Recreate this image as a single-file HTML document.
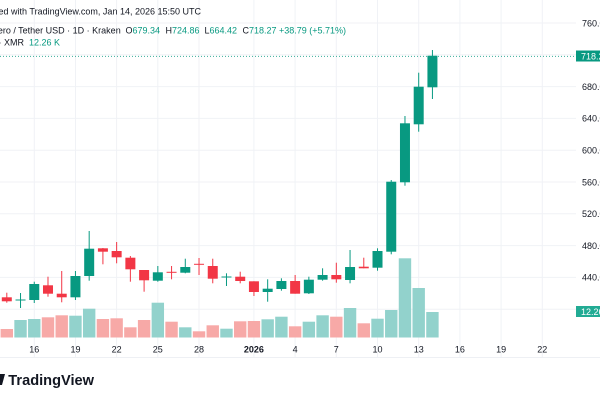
<!DOCTYPE html>
<html><head><meta charset="utf-8"><style>
html,body{margin:0;padding:0;background:#fff;}
svg{display:block;}
text{font-family:"Liberation Sans",Arial,sans-serif;}
</style></head><body>
<svg width="600" height="400" viewBox="0 0 600 400" xmlns="http://www.w3.org/2000/svg">
<rect width="600" height="400" fill="#fff"/>
<g stroke="#f0f2f6" stroke-width="1">
<line x1="0" y1="23" x2="576" y2="23"/>
<line x1="0" y1="54.8" x2="576" y2="54.8"/>
<line x1="0" y1="86.6" x2="576" y2="86.6"/>
<line x1="0" y1="118.4" x2="576" y2="118.4"/>
<line x1="0" y1="150.2" x2="576" y2="150.2"/>
<line x1="0" y1="182" x2="576" y2="182"/>
<line x1="0" y1="213.8" x2="576" y2="213.8"/>
<line x1="0" y1="245.6" x2="576" y2="245.6"/>
<line x1="0" y1="277.4" x2="576" y2="277.4"/>
<line x1="0" y1="309.2" x2="576" y2="309.2"/>
<line x1="34.3" y1="0" x2="34.3" y2="357"/>
<line x1="75.5" y1="0" x2="75.5" y2="357"/>
<line x1="116.6" y1="0" x2="116.6" y2="357"/>
<line x1="157.8" y1="0" x2="157.8" y2="357"/>
<line x1="199" y1="0" x2="199" y2="357"/>
<line x1="253.9" y1="0" x2="253.9" y2="357"/>
<line x1="295.1" y1="0" x2="295.1" y2="357"/>
<line x1="336.3" y1="0" x2="336.3" y2="357"/>
<line x1="377.5" y1="0" x2="377.5" y2="357"/>
<line x1="418.7" y1="0" x2="418.7" y2="357"/>
<line x1="459.9" y1="0" x2="459.9" y2="357"/>
<line x1="501.1" y1="0" x2="501.1" y2="357"/>
<line x1="542.3" y1="0" x2="542.3" y2="357"/>
</g>
<line x1="0" y1="357.5" x2="600" y2="357.5" stroke="#eef0f4" stroke-width="1"/>

<!-- volume -->
<g id="vol"></g>
<!-- candles -->
<g id="cdl"></g>

<line x1="0" y1="56.4" x2="576" y2="56.4" stroke="#089981" stroke-width="1" stroke-dasharray="1 2" opacity="0.8"/>

<!-- header -->
<text x="201" y="14.5" font-size="9" fill="#131722" text-anchor="end">ted with TradingView.com, Jan 14, 2026 15:50 UTC</text>
<text x="120.7" y="33.3" font-size="9" fill="#131722" text-anchor="end">nero / Tether USD · 1D · Kraken</text>
<text y="33.3" font-size="9" fill="#131722"><tspan x="125.5">O</tspan><tspan fill="#089981">679.34</tspan><tspan x="165.5">H</tspan><tspan fill="#089981">724.86</tspan><tspan x="204.5">L</tspan><tspan fill="#089981">664.42</tspan><tspan x="242.5">C</tspan><tspan fill="#089981">718.27</tspan><tspan x="279" fill="#089981">+38.79 (+5.71%)</tspan></text>
<text x="24" y="45.3" font-size="9" fill="#131722" text-anchor="end">· XMR</text>
<text x="29" y="45.3" font-size="9" fill="#089981">12.26 K</text>

<!-- price axis -->
<g font-size="9" fill="#131722">
<text x="582" y="26.3">760.00</text>
<text x="582" y="89.9">680.00</text>
<text x="582" y="121.7">640.00</text>
<text x="582" y="153.5">600.00</text>
<text x="582" y="185.3">560.00</text>
<text x="582" y="217.1">520.00</text>
<text x="582" y="248.9">480.00</text>
<text x="582" y="280.7">440.00</text>
</g>
<rect x="576" y="50.5" width="24" height="11" fill="#089981"/>
<text x="581" y="59.5" font-size="9" fill="#fff">718.27</text>
<rect x="576" y="306" width="24" height="11" fill="#22ab94"/>
<text x="581" y="315" font-size="9" fill="#fff">12.26 K</text>

<!-- time axis -->
<g font-size="9" fill="#131722" text-anchor="middle">
<text x="34.3" y="352.3">16</text>
<text x="75.5" y="352.3">19</text>
<text x="116.6" y="352.3">22</text>
<text x="157.8" y="352.3">25</text>
<text x="199" y="352.3">28</text>
<text x="253.9" y="352.3" font-weight="bold">2026</text>
<text x="295.1" y="352.3">4</text>
<text x="336.3" y="352.3">7</text>
<text x="377.5" y="352.3">10</text>
<text x="418.7" y="352.3">13</text>
<text x="459.9" y="352.3">16</text>
<text x="501.1" y="352.3">19</text>
<text x="542.3" y="352.3">22</text>
</g>

<!-- logo -->
<polygon points="0,374 5,374 2,385 0,385" fill="#131722"/>
<text x="8.3" y="385" font-size="14.6" font-weight="bold" fill="#131722">TradingView</text>
</svg>
<script>
(function(){
var NS="http://www.w3.org/2000/svg";
var G="#089981",R="#f23645",VG="#92d2cc",VR="#f7a9a7";
var c=[
['r',297.3,301.3,292.7,302.7],
['g',299.5,300.5,293,308],
['g',284,300,281.7,303],
['r',285.3,293.7,276.7,296.7],
['r',293.7,297.3,271,302.3],
['g',276,297.3,271,300],
['g',248.7,276,231,280.7],
['r',248.3,251.7,248,264.3],
['r',251,257.3,242,263.3],
['r',257.7,269.3,256,281.7],
['r',270,280.3,270,291.7],
['g',272.3,280.7,266,281.7],
['r',271.8,272.8,266,279.3],
['g',267,272.7,258.7,273.3],
['r',263.8,264.8,258,275],
['r',266,278.7,258.7,283.3],
['g',276.5,277.5,273.3,286],
['r',276.7,281,271.7,283.3],
['r',281.3,292,281.3,296],
['g',288.7,292,279.3,301.7],
['g',281,289,278.3,290.7],
['r',281,293.7,275,293.7],
['g',279.7,293.3,276.7,294],
['g',275,279.7,268.3,280.7],
['r',275,279.3,262.7,282.7],
['g',267,280,250,283.3],
['r',266.7,268.3,257.7,268.3],
['g',251,267.7,248.3,270.7],
['g',181.7,251.7,180,254.3],
['g',123.3,182.3,116,185.7],
['g',86.7,124.3,72.7,131.7],
['g',55.7,87.3,50,99]
];
var v=[329,320,319,317.3,315.3,315.7,308.7,319,318.3,327.3,320,302.7,321.7,327.3,331.3,325.3,328.7,321.3,321,319.3,316.7,326.3,321.7,315.3,316.7,308,323.3,318.7,310,258.3,288,312];
var vc="rggrrggrrrrgrgrrgrrggrggrgrggggg";
var vg=document.getElementById('vol'),cg=document.getElementById('cdl');
function el(t,a,p){var e=document.createElementNS(NS,t);for(var k in a)e.setAttribute(k,a[k]);p.appendChild(e);return e;}
for(var k=0;k<c.length;k++){
 var x=6.8+13.73*k;
 el('rect',{x:(x-6.2).toFixed(2),y:v[k],width:12.4,height:(337.5-v[k]).toFixed(2),fill:vc[k]=='g'?VG:VR},vg);
 var d=c[k],col=d[0]=='g'?G:R;
 el('rect',{x:(x-0.5).toFixed(2),y:d[3],width:1,height:(d[4]-d[3]).toFixed(2),fill:col},cg);
 var h=Math.max(1,d[2]-d[1]);
 el('rect',{x:(x-5).toFixed(2),y:d[1],width:10,height:h.toFixed(2),fill:col},cg);
}
})();
</script>
</body></html>
